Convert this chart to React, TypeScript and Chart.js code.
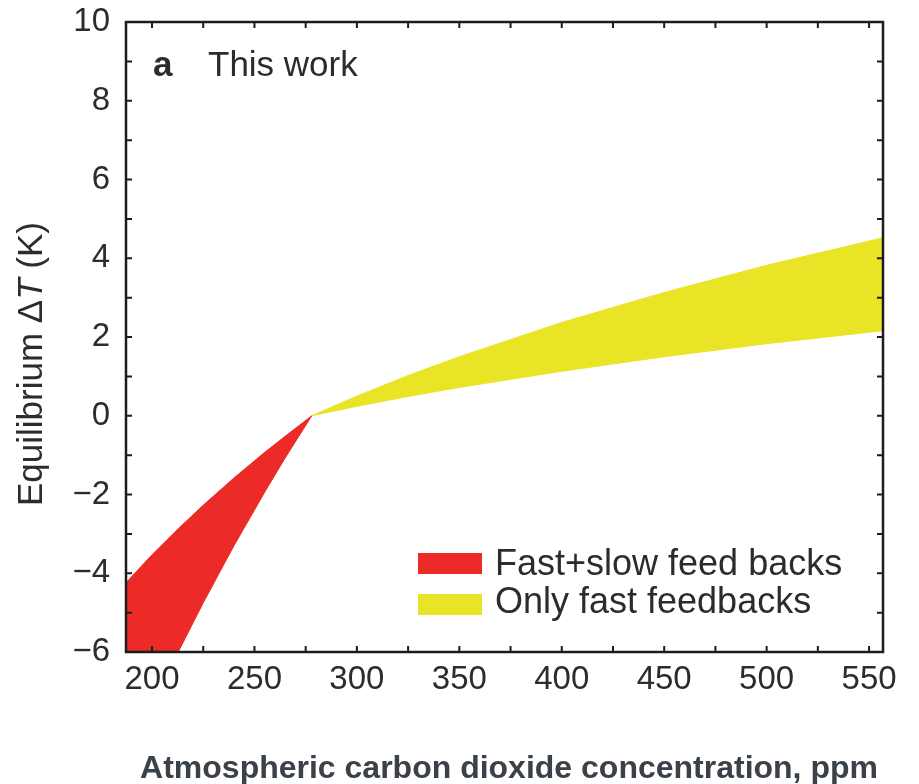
import React, { useEffect, useRef } from "react";
import { Chart, registerables } from "chart.js";

Chart.register(...registerables);

// ---- data ----
const redX = [185, 200, 212.8, 225, 240, 255, 265, 278];
const redUpper = [-4.37, -3.53, -2.87, -2.27, -1.58, -0.93, -0.52, 0];
const redLower = [-9.1, -7.4, -6.0, -4.75, -3.3, -1.94, -1.07, 0];

const yellowX = [278, 300, 325, 350, 400, 450, 500, 560];
const yellowUpper = [0, 0.5, 1.02, 1.5, 2.37, 3.13, 3.82, 4.56];
const yellowLower = [0, 0.24, 0.49, 0.72, 1.13, 1.5, 1.83, 2.18];

const xTickValues = [200, 250, 300, 350, 400, 450, 500, 550];
const yTickValues = [-6, -4, -2, 0, 2, 4, 6, 8, 10];
const xMinorStep = 25;
const yMinorStep = 1;

const legendLabels = ["Fast+slow feed backs", "Only fast feedbacks"];
const panelLetter = "a";
const panelTitle = "This work";
const xTitle = "Atmospheric carbon dioxide concentration, ppm";
const yTitleParts = ["Equilibrium \u0394", "T", " (K)"];

const RED = "#ec2b29";
const YELLOW = "#e9e425";
const TEXT = "#2c2c2c";
const FONT = "'Liberation Sans', Arial, Helvetica, sans-serif";

const toPoints = (xs: number[], ys: number[]) => xs.map((x, i) => ({ x, y: ys[i] }));

const decorPlugin = {
  id: "decor",
  afterDatasetsDraw(chart: any) {
    const { ctx, chartArea: a, scales } = chart;
    const x = scales.x;
    const y = scales.y;
    ctx.save();
    // frame
    ctx.strokeStyle = "#1c1c1c";
    ctx.lineWidth = 2.5;
    ctx.strokeRect(a.left, a.top, a.right - a.left, a.bottom - a.top);
    // inward ticks
    ctx.lineWidth = 2;
    const tl = 6;
    ctx.beginPath();
    for (let v = xTickValues[0]; v <= xTickValues[xTickValues.length - 1] + 0.01; v += xMinorStep) {
      const px = x.getPixelForValue(v);
      ctx.moveTo(px, a.bottom);
      ctx.lineTo(px, a.bottom - tl);
      ctx.moveTo(px, a.top);
      ctx.lineTo(px, a.top + tl);
    }
    for (let v = yTickValues[0]; v <= yTickValues[yTickValues.length - 1] + 0.01; v += yMinorStep) {
      const py = y.getPixelForValue(v);
      ctx.moveTo(a.left, py);
      ctx.lineTo(a.left + tl, py);
      ctx.moveTo(a.right, py);
      ctx.lineTo(a.right - tl, py);
    }
    ctx.stroke();

    // panel label
    ctx.fillStyle = TEXT;
    ctx.textBaseline = "alphabetic";
    ctx.textAlign = "left";
    ctx.font = `bold 35px ${FONT}`;
    ctx.fillText(panelLetter, 153, 76);
    ctx.font = `35px ${FONT}`;
    ctx.fillText(panelTitle, 208, 76);

    // legend
    const colors = [RED, YELLOW];
    const rectTops = [553, 594];
    const baselines = [575, 613];
    legendLabels.forEach((lab, i) => {
      ctx.fillStyle = colors[i];
      ctx.fillRect(418, rectTops[i], 64, 21);
      ctx.fillStyle = TEXT;
      ctx.font = `36px ${FONT}`;
      ctx.fillText(lab, 495, baselines[i]);
    });

    // x title
    ctx.fillStyle = "#3a4148";
    ctx.font = `bold 32px ${FONT}`;
    ctx.textAlign = "center";
    ctx.fillText(xTitle, 509, 778);

    // y title (rotated, with italic T)
    ctx.translate(42, 364);
    ctx.rotate(-Math.PI / 2);
    const fonts = [`35px ${FONT}`, `italic 35px ${FONT}`, `35px ${FONT}`];
    const widths = yTitleParts.map((p, i) => {
      ctx.font = fonts[i];
      return ctx.measureText(p).width;
    });
    const total = widths.reduce((s, w) => s + w, 0);
    let cx = -total / 2;
    ctx.textAlign = "left";
    ctx.fillStyle = TEXT;
    yTitleParts.forEach((p, i) => {
      ctx.font = fonts[i];
      ctx.fillText(p, cx, 0);
      cx += widths[i];
    });
    ctx.restore();
  },
};

export default function App() {
  const ref = useRef<HTMLCanvasElement | null>(null);

  useEffect(() => {
    if (!ref.current) return;
    const chart = new Chart(ref.current, {
      type: "line",
      data: {
        datasets: [
          {
            label: "red upper",
            data: toPoints(redX, redUpper),
            borderColor: RED,
            borderWidth: 1,
            pointRadius: 0,
            fill: false,
            tension: 0,
          },
          {
            label: legendLabels[0],
            data: toPoints(redX, redLower),
            borderColor: RED,
            borderWidth: 1,
            backgroundColor: RED,
            pointRadius: 0,
            fill: "-1",
            tension: 0,
          },
          {
            label: "yellow upper",
            data: toPoints(yellowX, yellowUpper),
            borderColor: YELLOW,
            borderWidth: 1,
            pointRadius: 0,
            fill: false,
            tension: 0,
          },
          {
            label: legendLabels[1],
            data: toPoints(yellowX, yellowLower),
            borderColor: YELLOW,
            borderWidth: 1,
            backgroundColor: YELLOW,
            pointRadius: 0,
            fill: "-1",
            tension: 0,
          },
        ],
      },
      options: {
        animation: false,
        responsive: false,
        devicePixelRatio: 1,
        layout: { padding: { left: 0, top: 22, right: 36, bottom: 0 } },
        plugins: {
          legend: { display: false },
          tooltip: { enabled: false },
        },
        scales: {
          x: {
            type: "linear",
            min: 187.3,
            max: 556.8,
            grid: { display: false, drawTicks: false },
            border: { display: false },
            afterBuildTicks: (s: any) => {
              s.ticks = xTickValues.map((v) => ({ value: v }));
            },
            afterFit: (s: any) => {
              s.height = 132;
              s.paddingLeft = 0;
              s.paddingRight = 0;
            },
            ticks: {
              color: TEXT,
              font: { family: FONT, size: 33 },
              padding: 8,
              maxRotation: 0,
              autoSkip: false,
            },
          },
          y: {
            type: "linear",
            min: -6,
            max: 10,
            grid: { display: false, drawTicks: false },
            border: { display: false },
            afterBuildTicks: (s: any) => {
              s.ticks = yTickValues.map((v) => ({ value: v }));
            },
            afterFit: (s: any) => {
              s.width = 126;
              s.paddingTop = 0;
              s.paddingBottom = 0;
            },
            ticks: {
              color: TEXT,
              font: { family: FONT, size: 33 },
              padding: 16,
              autoSkip: false,
              callback: (v: any) => (Number(v) < 0 ? "\u2212" + Math.abs(Number(v)) : String(v)),
            },
          },
        },
      },
      plugins: [decorPlugin],
    });
    return () => chart.destroy();
  }, []);

  return (
    <div style={{ position: "absolute", left: 0, top: 0, width: 919, height: 784, background: "#fff" }}>
      <canvas ref={ref} width={919} height={784} style={{ display: "block", width: 919, height: 784 }} />
    </div>
  );
}
